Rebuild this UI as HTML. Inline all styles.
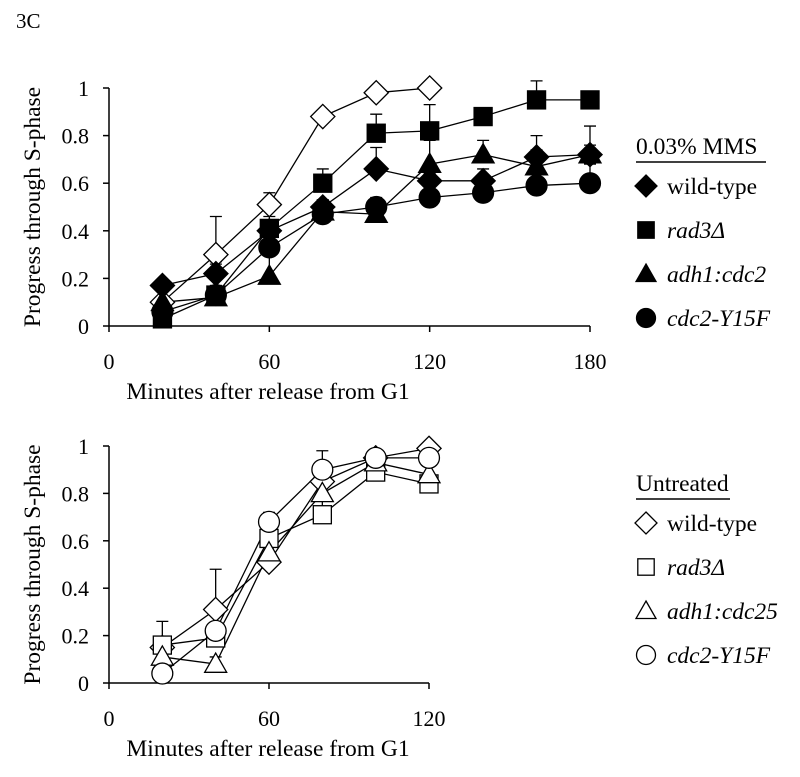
<!DOCTYPE html>
<html><head><meta charset="utf-8"><style>
body{margin:0;background:#fff;width:800px;height:772px;overflow:hidden}
svg text{font-family:"Liberation Serif",serif;fill:#000}
</style></head><body>
<svg id="fig" width="800" height="772" viewBox="0 0 800 772" xmlns="http://www.w3.org/2000/svg">
<text x="16" y="28" font-size="21">3C</text>
<g id="top"></g>
<g id="bot"></g>
</svg>
<script>
const xTicksTop=[0,60,120,180];
const xTicksBot=[0,60,120];
const yTicks=[0,0.2,0.4,0.6,0.8,1];
const yTickLabels=["0","0.2","0.4","0.6","0.8","1"];
const timesTop=[20,40,60,80,100,120,140,160,180];
const mmsWild=[0.17,0.22,0.40,0.50,0.66,0.61,0.61,0.71,0.72];
const mmsRad3=[0.03,0.13,0.41,0.60,0.81,0.82,0.88,0.95,0.95];
const mmsAdh1=[0.10,0.12,0.21,0.48,0.47,0.68,0.72,0.67,0.72];
const mmsY15F=[0.06,0.13,0.33,0.47,0.50,0.54,0.56,0.59,0.60];
const mmsWildErr=[0,0.05,0.04,0.03,0.09,0.06,0.05,0.09,0.04];
const mmsRad3Err=[0.02,0.04,0.05,0.06,0.08,0.11,0.02,0.08,0];
const mmsAdh1Err=[0,0.05,0.12,0.05,0.03,0.10,0.06,0.07,0.12];
const mmsY15FErr=[0.03,0.13,0.07,0.03,0.04,0.10,0.03,0.10,0.08];
const timesOpenTop=[20,40,60,80,100,120];
const untWildTop=[0.10,0.30,0.51,0.88,0.98,1.00];
const untWildTopErr=[0,0.16,0.05,0,0,0];
const timesBot=[20,40,60,80,100,120];
const untWild=[0.15,0.31,0.51,0.85,0.95,0.99];
const untRad3=[0.16,0.19,0.61,0.71,0.89,0.84];
const untAdh1=[0.11,0.08,0.55,0.80,0.93,0.88];
const untY15F=[0.04,0.22,0.68,0.90,0.95,0.95];
const untWildErr=[0,0.17,0.02,0.03,0.02,0];
const untRad3Err=[0.10,0.05,0.04,0.17,0.04,0.14];
const untAdh1Err=[0,0.03,0.03,0.05,0.02,0.05];
const untY15FErr=[0,0,0.04,0.08,0.02,0];

const NS="http://www.w3.org/2000/svg";
function mk(tag,attrs,parent){const e=document.createElementNS(NS,tag);for(const k in attrs)e.setAttribute(k,attrs[k]);parent.appendChild(e);return e;}

function chart(g,cfg){
  const x=v=>cfg.x0+v*(cfg.x1-cfg.x0)/cfg.xmax;
  const y=v=>cfg.y0+v*(cfg.y1-cfg.y0);
  const xEnd=x(cfg.xt[cfg.xt.length-1]);
  const ax=mk('path',{d:`M${cfg.x0} ${cfg.y1}V${cfg.y0}H${xEnd}`,stroke:'#000','stroke-width':1.5,fill:'none'},g);
  
  
  yTicks.forEach((t,i)=>{
    mk('line',{x1:cfg.x0-6,x2:cfg.x0,y1:y(t),y2:y(t),stroke:'#000','stroke-width':1.5},g);
    const tx=mk('text',{x:cfg.x0-20,y:y(t)+8,'font-size':22,'text-anchor':'end'},g);
    tx.textContent=yTickLabels[i];
    
    
  });
  cfg.xt.forEach(t=>{
    mk('line',{x1:x(t),x2:x(t),y1:cfg.y0,y2:cfg.y0+6,stroke:'#000','stroke-width':1.5},g);
    const tx=mk('text',{x:x(t),y:cfg.y0+43,'font-size':22,'text-anchor':'middle'},g);
    tx.textContent=String(t);
    
    
  });
  const xt=mk('text',{x:268,y:cfg.y0+73,'font-size':23.5,'text-anchor':'middle'},g);
  xt.textContent='Minutes after release from G1';
  
  
  const yc=(cfg.y0+cfg.y1)/2;
  const yt=mk('text',{x:0,y:0,'font-size':23.5,'text-anchor':'middle',transform:`translate(40 ${yc}) rotate(-90)`},g);
  yt.textContent='Progress through S-phase';
  
  
  const sg=mk('g',{},g);
  cfg.series.forEach(s=>{
    const pts=s.t.map((t,i)=>[x(t),y(s.v[i])]);
    const ln=mk('polyline',{points:pts.map(p=>p.join(',')).join(' '),fill:'none',stroke:'#000','stroke-width':1.3},sg);
    
    
    s.t.forEach((t,i)=>{ if(s.e[i]>0){
      const yy=y(s.v[i]+s.e[i]);
      mk('path',{d:`M${x(t)} ${y(s.v[i])}V${yy}M${x(t)-6} ${yy}H${x(t)+6}`,stroke:'#000','stroke-width':1.3},sg);
    }});
  });
  cfg.series.forEach(s=>{
    s.t.forEach((t,i)=>{
      const m=marker(sg,s.shape,x(t),y(s.v[i]),s.fill,11);
      
      
    });
  });
  const lg=mk('g',{},g);
  
  
  const tt=mk('text',{x:cfg.lx,y:cfg.ly,'font-size':23.5},lg);
  tt.textContent=cfg.ltitle;
  mk('line',{x1:cfg.lx,x2:cfg.lx+cfg.lw,y1:cfg.ly+8,y2:cfg.ly+8,stroke:'#000','stroke-width':1.5},lg);
  cfg.legend.forEach((l,i)=>{
    const cy=cfg.ly+32+i*44;
    marker(lg,l.shape,cfg.lx+10,cy,l.fill,10);
    const te=mk('text',{x:cfg.lx+31,y:cy+8,'font-size':23.5,'font-style':l.it?'italic':'normal'},lg);
    te.textContent=l.label;
    
    
  });
}
function marker(p,shape,cx,cy,fill,r){
  const a={fill:fill?'#000':'#fff',stroke:'#000','stroke-width':1.3};
  if(shape==='d'){a.points=`${cx},${cy-r*1.1} ${cx+r*1.1},${cy} ${cx},${cy+r*1.1} ${cx-r*1.1},${cy}`;return mk('polygon',a,p);}
  if(shape==='s'){a.x=cx-r*0.82;a.y=cy-r*0.82;a.width=r*1.64;a.height=r*1.64;return mk('rect',a,p);}
  if(shape==='t'){a.points=`${cx},${cy-r} ${cx+r},${cy+r*0.75} ${cx-r},${cy+r*0.75}`;return mk('polygon',a,p);}
  a.cx=cx;a.cy=cy;a.r=r*0.95;return mk('circle',a,p);
}
chart(document.getElementById('top'),{x0:109,x1:590,xmax:180,y0:326,y1:88,xt:xTicksTop,
  ltitle:'0.03% MMS',lx:636,ly:154,lw:130,
  series:[
    {name:'wild-type-untreated',t:timesOpenTop,v:untWildTop,e:untWildTopErr,shape:'d',fill:false},
    {name:'rad3',t:timesTop,v:mmsRad3,e:mmsRad3Err,shape:'s',fill:true},
    {name:'adh1-cdc2',t:timesTop,v:mmsAdh1,e:mmsAdh1Err,shape:'t',fill:true},
    {name:'wild-type',t:timesTop,v:mmsWild,e:mmsWildErr,shape:'d',fill:true},
    {name:'cdc2-y15f',t:timesTop,v:mmsY15F,e:mmsY15FErr,shape:'c',fill:true}],
  legend:[{shape:'d',fill:true,label:'wild-type'},{shape:'s',fill:true,label:'rad3Δ',it:true},{shape:'t',fill:true,label:'adh1:cdc2',it:true},{shape:'c',fill:true,label:'cdc2-Y15F',it:true}]});
chart(document.getElementById('bot'),{x0:109,x1:589,xmax:180,y0:683,y1:446,xt:xTicksBot,
  ltitle:'Untreated',lx:636,ly:491,lw:94,
  series:[
    {name:'wild-type',t:timesBot,v:untWild,e:untWildErr,shape:'d',fill:false},
    {name:'rad3',t:timesBot,v:untRad3,e:untRad3Err,shape:'s',fill:false},
    {name:'adh1-cdc25',t:timesBot,v:untAdh1,e:untAdh1Err,shape:'t',fill:false},
    {name:'cdc2-y15f',t:timesBot,v:untY15F,e:untY15FErr,shape:'c',fill:false}],
  legend:[{shape:'d',fill:false,label:'wild-type'},{shape:'s',fill:false,label:'rad3Δ',it:true},{shape:'t',fill:false,label:'adh1:cdc25',it:true},{shape:'c',fill:false,label:'cdc2-Y15F',it:true}]});
</script>
</body></html>
